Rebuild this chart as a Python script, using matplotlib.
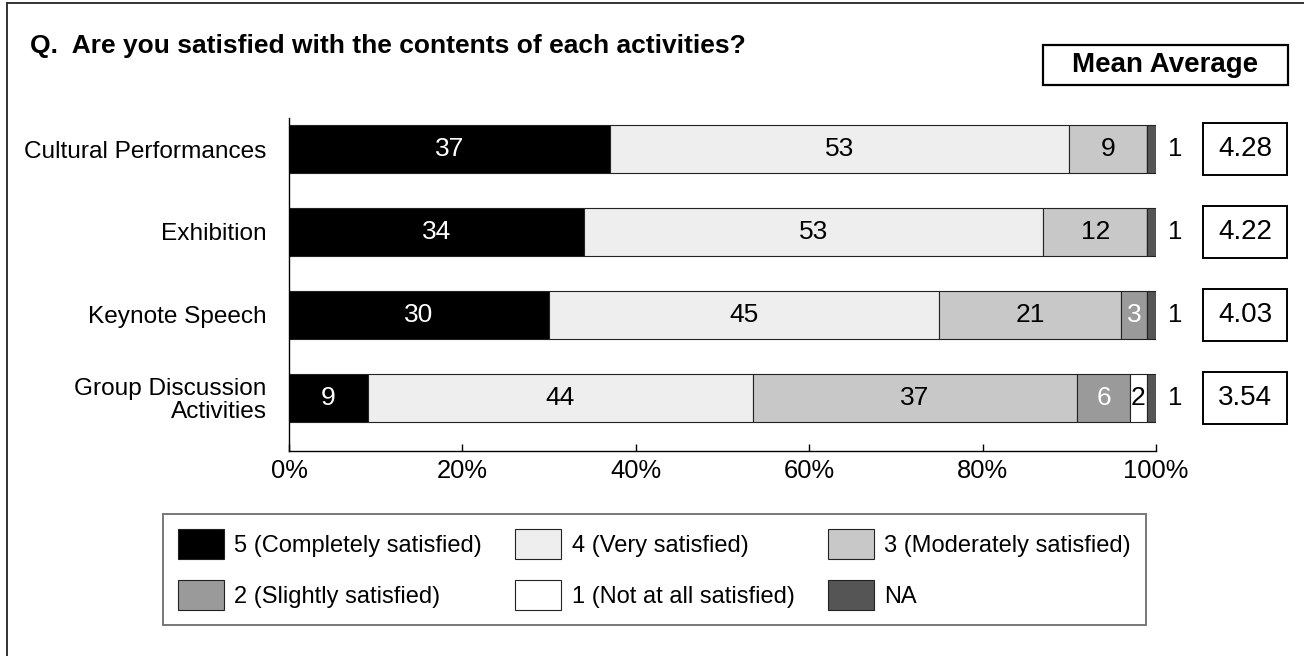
import matplotlib
matplotlib.use('Agg')
import matplotlib.pyplot as plt
import matplotlib.patches as mpatches
from matplotlib.lines import Line2D
from matplotlib.transforms import blended_transform_factory
import numpy as np

plt.rcParams['font.family'] = ['Liberation Sans', 'DejaVu Sans']

# ─── Datos ───────────────────────────────────────────────────────────────────
ACTIVITIES = ["Cultural Performances", "Exhibition", "Keynote Speech",
              "Group Discussion\nActivities"]
LEVELS = ["5 (Completely satisfied)", "4 (Very satisfied)",
          "3 (Moderately satisfied)", "2 (Slightly satisfied)",
          "1 (Not at all satisfied)", "NA"]
S5 = [37, 34, 30, 9]
S4 = [53, 53, 45, 44]
S3 = [9, 12, 21, 37]
S2 = [0, 0, 3, 6]
S1 = [0, 0, 0, 2]
NA = [1, 1, 1, 1]
MEANS = [4.28, 4.22, 4.03, 3.54]

COLORS = ["#000000", "#eeeeee", "#c8c8c8", "#9a9a9a", "#ffffff", "#555555"]
TXT_COL = ["white", "black", "black", "white", "black", "black"]

W, H = 1304, 656
FS = 17.6

fig = plt.figure(figsize=(W / 100, H / 100), dpi=100, facecolor='white')

def fx(px): return px / W
def fy(py): return 1 - py / H

# marco exterior (solo izquierda y arriba)
fig.add_artist(Line2D([fx(7), fx(7)], [fy(3), 0], color='#333333', lw=1.4))
fig.add_artist(Line2D([fx(7), 1], [fy(3), fy(3)], color='#333333', lw=1.4))

# ─── Ejes principales ────────────────────────────────────────────────────────
ax_top, ax_bot = 118, 451
ax = fig.add_axes([fx(289), fy(ax_bot), fx(1156) - fx(289), (ax_bot - ax_top) / H])

series = np.array([S5, S4, S3, S2, S1, NA], dtype=float)
totals = series.sum(axis=0)
pct = series / totals * 100
ypos = np.arange(len(ACTIVITIES))
left = np.zeros(len(ACTIVITIES))
for k in range(len(LEVELS)):
    ax.barh(ypos, pct[k], left=left, height=0.57, color=COLORS[k],
            edgecolor='#222222', linewidth=0.8, label=LEVELS[k], zorder=2)
    for j in range(len(ACTIVITIES)):
        v = series[k, j]
        if v == 0:
            continue
        if k == len(LEVELS) - 1:
            ax.annotate(f"{int(v)}", xy=(100, ypos[j]), xytext=(14, 0),
                        textcoords='offset points', ha='center', va='center',
                        fontsize=FS + 1, color='black')
        else:
            ax.text(left[j] + pct[k, j] / 2, ypos[j], f"{int(v)}",
                    ha='center', va='center', fontsize=FS + 1.4,
                    color=TXT_COL[k], zorder=3)
    left += pct[k]

ax.set_xlim(0, 100)
ax.set_ylim(3 + 53 / 83, -31 / 83)
ax.set_yticks(ypos)
ax.set_yticklabels(ACTIVITIES, fontsize=FS, linespacing=1.0)
ax.set_xticks(np.arange(0, 101, 20))
ax.set_xticklabels([f"{t}%" for t in range(0, 101, 20)], fontsize=FS + 0.8)
ax.tick_params(axis='x', direction='in', length=5, width=1, pad=6)
ax.tick_params(axis='y', length=0, pad=16)
for s in ('top', 'right'):
    ax.spines[s].set_visible(False)
for s in ('left', 'bottom'):
    ax.spines[s].set_color('black')
    ax.spines[s].set_linewidth(1.0)

# ─── Cajas de media ──────────────────────────────────────────────────────────
tr = blended_transform_factory(fig.transFigure, ax.transData)
bh = 52 / 83
for j, m in enumerate(MEANS):
    fig.add_artist(mpatches.Rectangle((fx(1203), ypos[j] - bh / 2),
                   fx(1287) - fx(1203), bh, transform=tr,
                   facecolor='white', edgecolor='black', lw=1.4))
    fig.text((fx(1203) + fx(1287)) / 2, ypos[j], f"{m:.2f}", transform=tr,
             ha='center', va='center', fontsize=20)

fig.add_artist(mpatches.Rectangle((fx(1043), fy(85)), fx(1288) - fx(1043),
               fy(45) - fy(85), facecolor='white', edgecolor='black', lw=1.6))
fig.text((fx(1043) + fx(1288)) / 2, fy(65), "Mean Average",
         ha='center', va='center', fontsize=20, fontweight='bold')

# ─── Título ──────────────────────────────────────────────────────────────────
fig.text(fx(30), fy(46), "Q.  Are you satisfied with the contents of each activities?",
         ha='left', va='center', fontsize=19, fontweight='bold')

# ─── Leyenda ─────────────────────────────────────────────────────────────────
handles, labels = ax.get_legend_handles_labels()
order = [0, 3, 1, 4, 2, 5]
leg = fig.legend([handles[i] for i in order], [labels[i] for i in order],
                 loc='upper left', bbox_to_anchor=(fx(163), fy(514)),
                 ncol=3, fontsize=17, frameon=True, fancybox=False,
                 handlelength=1.95, handleheight=1.6, handletextpad=0.45,
                 columnspacing=1.4, labelspacing=0.88, borderpad=0.62,
                 borderaxespad=0)
leg.get_frame().set_edgecolor('#555555')
leg.get_frame().set_linewidth(1.4)

fig.savefig('out.png', dpi=100, facecolor='white')
